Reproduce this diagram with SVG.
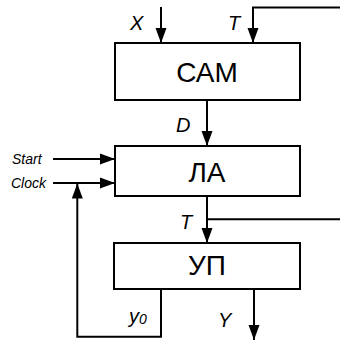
<svg xmlns="http://www.w3.org/2000/svg" width="340" height="341" viewBox="0 0 340 341">
<defs>
<marker id="ah" markerUnits="userSpaceOnUse" markerWidth="16" markerHeight="12" refX="15" refY="6" orient="auto">
<path d="M0,0.5 L15,6 L0,11.5 Z" fill="#000"/>
</marker>
<style>
.box{fill:#fff;stroke:#000;stroke-width:2}
.ln{fill:none;stroke:#000;stroke-width:2}
.arr{fill:none;stroke:#000;stroke-width:2;marker-end:url(#ah)}
.big{font-family:"Liberation Sans",Arial,sans-serif;font-size:28px;fill:#000;text-anchor:middle}
.lbl{font-family:"Liberation Sans",Arial,sans-serif;font-size:20px;font-style:italic;fill:#000}
.sm{font-family:"Liberation Sans",Arial,sans-serif;font-size:14px;font-style:italic;fill:#000}
</style>
</defs>
<g id="connectors">
<line class="arr" x1="161" y1="7" x2="161" y2="43"/>
<polyline class="arr" points="340,7.5 253,7.5 253,43"/>
<line class="arr" x1="207" y1="100" x2="207" y2="146"/>
<line class="arr" x1="53" y1="159" x2="115" y2="159"/>
<line class="arr" x1="53" y1="183" x2="115" y2="183"/>
<line class="arr" x1="207" y1="196" x2="207" y2="243"/>
<line class="ln" x1="207" y1="219.3" x2="340" y2="219.3"/>
<polyline class="arr" points="161,289 161,336.7 77.3,336.7 77.3,183.5"/>
<line class="arr" x1="254" y1="289" x2="254" y2="340"/>
</g>
<g id="cam">
<rect class="box" x="115" y="43" width="185" height="57"/>
<text class="big" x="207" y="82">САМ</text>
</g>
<g id="la">
<rect class="box" x="115" y="146" width="185" height="50"/>
<text class="big" x="207" y="182">ЛА</text>
</g>
<g id="up">
<rect class="box" x="114" y="243" width="186" height="46"/>
<text class="big" x="207" y="275">УП</text>
</g>
<g id="labels">
<text class="lbl" x="130" y="29.5">X</text>
<text class="lbl" x="228" y="30">T</text>
<text class="lbl" x="176" y="132">D</text>
<text class="sm" x="12" y="164">Start</text>
<text class="sm" x="11" y="188">Clock</text>
<text class="lbl" x="180" y="228.5">T</text>
<text class="lbl" x="218" y="326.5">Y</text>
<text class="lbl" x="129" y="323">y<tspan font-size="14" dy="1">0</tspan></text>
</g>
</svg>
